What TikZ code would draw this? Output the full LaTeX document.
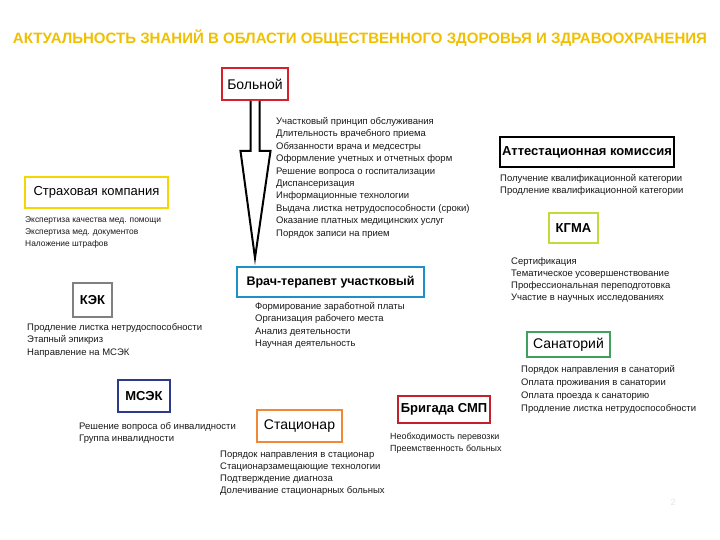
\documentclass[tikz,border=0pt]{standalone}
\usepackage{fontspec}
\setmainfont{Liberation Sans}
\definecolor{ctitle}{RGB}{240,192,0}
\definecolor{cred}{RGB}{214,32,44}
\definecolor{cyel}{RGB}{245,214,0}
\definecolor{cgreenyel}{RGB}{196,218,56}
\definecolor{cblue}{RGB}{30,144,200}
\definecolor{cgray}{RGB}{128,128,128}
\definecolor{cgreen}{RGB}{64,160,96}
\definecolor{cnavy}{RGB}{44,58,140}
\definecolor{corange}{RGB}{240,136,56}
\definecolor{ccrim}{RGB}{196,32,44}
\tikzset{
  box/.style={draw=#1, line width=2.6pt, fill=white, inner sep=0pt, text=black, font=\fontsize{13}{15}\selectfont},
  item/.style={anchor=west, inner sep=0pt, text height=7pt, text depth=2pt, font=\fontsize{9.5}{11}\selectfont, text=black!90},
}
\newcommand{\itemlist}[6][]{%
  \foreach \t [count=\i] in {#6} {
    \node[item,#1] (#5\i) at (#2, #3 + #4*\i - #4) {\t};
  }%
}
\begin{document}
\begin{tikzpicture}[x=1pt,y=-1pt]
\useasboundingbox (0,0) rectangle (720,540);
\fill[white] (0,0) rectangle (720,540);
% title
\node[inner sep=0pt, text=ctitle] (title) at (360,38) {\resizebox{694pt}{!}{\fontsize{15}{18}\selectfont\bfseries АКТУАЛЬНОСТЬ ЗНАНИЙ В ОБЛАСТИ ОБЩЕСТВЕННОГО ЗДОРОВЬЯ И ЗДРАВООХРАНЕНИЯ}};

% Больной
\node[box=cred, minimum width=66pt, minimum height=32pt, font=\fontsize{14}{16}\selectfont] (bol) at (255,84) {Больной};
% arrow
\coordinate (atip) at (255,258);
\draw[line width=2pt, fill=white, line join=miter]
  (250.5,101) -- (250.5,151) -- (240.5,151) -- (atip) -- (270.5,151) -- (259.5,151) -- (259.5,101);
\itemlist{276}{122}{12.4}{bl}{{Участковый принцип обслуживания},{Длительность врачебного приема},{Обязанности врача и медсестры},{Оформление учетных и отчетных форм},{Решение вопроса о госпитализации},{Диспансеризация},{Информационные технологии},{Выдача листка нетрудоспособности (сроки)},{Оказание платных медицинских услуг},{Порядок записи на прием}}

% Страховая компания
\node[box=cyel, minimum width=143pt, minimum height=31pt] (str) at (96.5,192.5) {Страховая компания};
\itemlist[font=\fontsize{8.4}{10}\selectfont]{25}{220}{12}{sl}{{Экспертиза качества мед. помощи},{Экспертиза мед. документов},{Наложение штрафов}}

% Аттестационная комиссия
\node[box=black, minimum width=174pt, minimum height=30pt, font=\fontsize{13}{15}\selectfont\bfseries] (att) at (587,152) {Аттестационная комиссия};
\itemlist{500}{179}{12}{al}{{Получение квалификационной категории},{Продление квалификационной категории}}

% КГМА
\node[box=cgreenyel, minimum width=49pt, minimum height=30pt, font=\fontsize{13}{15}\selectfont\bfseries] (kgma) at (573.5,228) {КГМА};
\itemlist{511}{262}{12}{kl}{{Сертификация},{Тематическое усовершенствование},{Профессиональная переподготовка},{Участие в научных исследованиях}}

% Врач-терапевт участковый
\node[box=cblue, minimum width=187pt, minimum height=30pt, font=\fontsize{12.5}{15}\selectfont\bfseries] (vrach) at (330.5,282) {Врач-терапевт участковый};
\itemlist{255}{307}{12.3}{vl}{{Формирование заработной платы},{Организация рабочего места},{Анализ деятельности},{Научная деятельность}}

% КЭК
\node[box=cgray, minimum width=39pt, minimum height=34pt, font=\fontsize{13}{15}\selectfont\bfseries] (kek) at (92.5,300) {КЭК};
\itemlist{27}{328}{12.4}{el}{{Продление листка нетрудоспособности},{Этапный эпикриз},{Направление на МСЭК}}

% Санаторий
\node[box=cgreen, minimum width=83pt, minimum height=25pt, font=\fontsize{14}{16}\selectfont] (san) at (568.5,344.5) {Санаторий};
\itemlist{521}{370}{13}{nl}{{Порядок направления в санаторий},{Оплата проживания в санатории},{Оплата проезда к санаторию},{Продление листка нетрудоспособности}}

% МСЭК
\node[box=cnavy, minimum width=52pt, minimum height=32pt, font=\fontsize{13}{15}\selectfont\bfseries] (msek) at (144,396) {МСЭК};
\itemlist{79}{427}{12}{ml}{{Решение вопроса об инвалидности},{Группа инвалидности}}

% Стационар
\node[box=corange, minimum width=85pt, minimum height=32pt, font=\fontsize{14}{16}\selectfont] (stac) at (299.5,426) {Стационар};
\itemlist{220}{455}{12}{cl}{{Порядок направления в стационар},{Стационарзамещающие технологии},{Подтверждение диагноза},{Долечивание стационарных больных}}

% Бригада СМП
\node[box=ccrim, minimum width=92pt, minimum height=27pt, font=\fontsize{13}{15}\selectfont\bfseries] (smp) at (444,409.5) {Бригада СМП};
\itemlist[font=\fontsize{8.9}{10}\selectfont]{390}{437}{12}{pl}{{Необходимость перевозки},{Преемственность больных}}

% page number
\node[inner sep=0pt, text=black!10, font=\fontsize{9}{11}\selectfont] (pg) at (673,502) {2};
\end{tikzpicture}
\end{document}
